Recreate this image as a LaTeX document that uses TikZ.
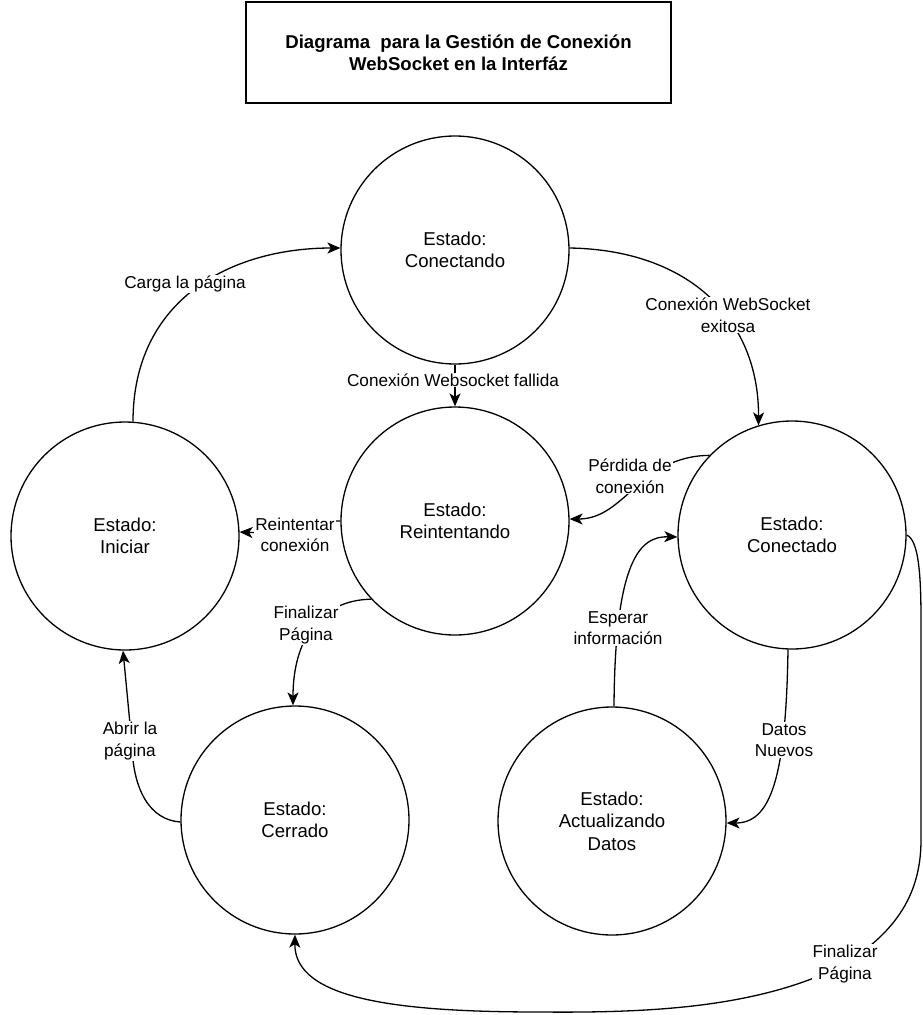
\documentclass[tikz,border=0pt]{standalone}
\usepackage{fontspec}
\setmainfont{Liberation Sans}
\usetikzlibrary{arrows.meta}
\begin{document}
\begin{tikzpicture}[x=1pt,y=-1pt,
  state/.style={circle,draw,line width=1.3pt,minimum size=228pt,inner sep=0pt,
    align=center,font=\fontsize{18.6}{22.5}\selectfont},
  lbl/.style={fill=white,inner sep=1pt,align=center,
    font=\fontsize{17.2}{21.5}\selectfont},
  trans/.style={line width=1.3pt,-{Stealth[length=13pt,width=11pt,inset=3.5pt]}},
  titlebox/.style={draw,line width=1.3pt,minimum width=425pt,minimum height=101pt,
    align=center,font=\bfseries\fontsize{18.6}{22}\selectfont}]
  \useasboundingbox (0,0) rectangle (922,1015);

  % title
  \node[titlebox] (title) at (458.5,52.5) {Diagrama\ \ para la Gestión de Conexión\\WebSocket en la Interfáz};

  % states
  \node[state] (conectando)   at (455,250) {Estado:\\Conectando};
  \node[state] (reintentando) at (455,521) {Estado:\\Reintentando};
  \node[state] (iniciar)      at (125,536) {Estado:\\Iniciar};
  \node[state] (conectado)    at (792,535) {Estado:\\Conectado};
  \node[state] (cerrado)      at (295,820) {Estado:\\Cerrado};
  \node[state] (actualizando) at (612,821) {Estado:\\Actualizando\\Datos};

  % transitions
  \draw[trans] (iniciar.86) .. controls (133,300) and (230,248) .. (conectando.179);
  \draw[trans] (conectando.1) .. controls (690,250) and (759,320) .. (conectado.107);
  \draw[trans] (conectando.south) -- (reintentando.north);
  \draw[trans] (conectado.136) .. controls (640,456) and (625,519) .. (reintentando.1);
  \draw[trans] (reintentando.180) .. controls (300,521) and (290,534) .. (iniciar.2);
  \draw[trans] (reintentando.223) .. controls (320,600) and (293,640) .. (cerrado.91);
  \draw[trans] (conectado.268) .. controls (786,780) and (770,823) .. (actualizando.359);
  \draw[trans] (actualizando.89) .. controls (615,560) and (640,536) .. (conectado.181);
  \draw[trans] (cerrado.181) .. controls (150,820) and (133,790) .. (132,745) -- (iniciar.269);
  \draw[trans] (conectado.0) .. controls (918,540) and (921,570) .. (921,620)
    -- (921,840) .. controls (921,900) and (890,935) .. (845,964)
    .. controls (760,1008) and (650,1013) .. (540,1012)
    .. controls (400,1012) and (294,1000) .. (cerrado.270);

  % transition labels
  \node[lbl] (lcarga)      at (185,284) {Carga la página};
  \node[lbl] (lexitosa)    at (728,315) {Conexión WebSocket\\exitosa};
  \node[lbl] (lfallida)    at (453,380) {Conexión Websocket fallida};
  \node[lbl] (lperdida)    at (630,476) {Pérdida de\\conexión};
  \node[lbl] (lreintentar) at (295,535) {Reintentar\\conexión};
  \node[lbl] (lfinalizar)  at (306,625) {Finalizar\\Página};
  \node[lbl] (lesperar)    at (618,628) {Esperar\\información};
  \node[lbl] (ldatos)      at (784,740) {Datos\\Nuevos};
  \node[lbl] (labrir)      at (130,741) {Abrir la\\página};
  \node[lbl] (lcierre)     at (845,964) {Finalizar\\Página};
\end{tikzpicture}
\end{document}
